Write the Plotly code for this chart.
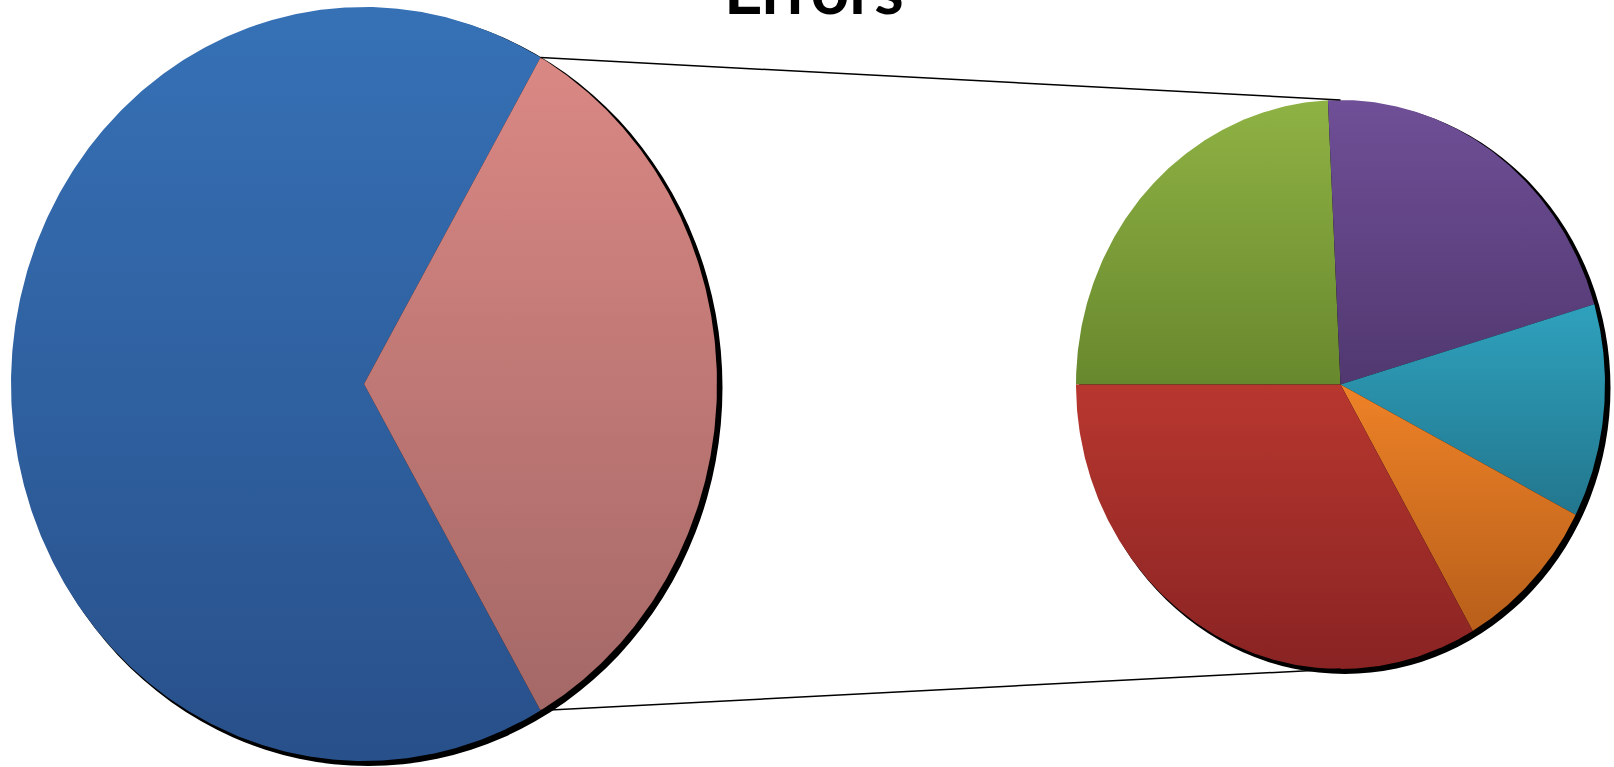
import numpy as np
import plotly.graph_objects as go

# ---- data ----
main_labels = ["Other", "Errors"]
main_values = [66, 33]            # second value is the split-out group
split_labels = ["Type A", "Type B", "Type C", "Type D", "Type E"]
split_values = [8, 7, 4, 3, 11]   # clockwise from 9 o'clock

main_colors = [("#3671B6", "#28508A"), ("#DA8884", "#A46866")]
split_colors = [("#8FB244", "#68882D"), ("#6F4F97", "#513870"),
                ("#2FA1BD", "#22768D"), ("#EE8227", "#B85F1A"),
                ("#B8372F", "#892323")]

title_text = "Errors"

# ---- layout constants (pixels, y up) ----
W, H = 1614, 767
L_CX, L_CY, L_RX, L_RY = 364.0, 767 - 384.0, 353.0, 377.0
R_CX, R_CY, R_RX, R_RY = 1340.5, 767 - 384.5, 264.5, 284.5

fig = go.Figure()


def slice_xy(cx, cy, rx, ry, a0, a1):
    n = max(int(abs(a1 - a0) / 0.5), 4)
    t = np.radians(np.linspace(a0, a1, n))
    xs = np.concatenate([[cx], cx + rx * np.cos(t), [cx]])
    ys = np.concatenate([[cy], cy + ry * np.sin(t), [cy]])
    return xs, ys


def add_slice(cx, cy, rx, ry, a0, a1, cols, name, val):
    xs, ys = slice_xy(cx, cy, rx, ry, a0, a1)
    fig.add_trace(go.Scatter(
        x=xs, y=ys, mode="lines", fill="toself",
        line=dict(width=0, color=cols[1]),
        fillgradient=dict(type="vertical",
                          colorscale=[[0, cols[1]], [1, cols[0]]],
                          start=float(ys.min()), stop=float(ys.max())),
        name=name, hovertemplate=f"{name}: {val}<extra></extra>",
        showlegend=False))


# shadows
for cx, cy, rx, ry in [(L_CX, L_CY, L_RX, L_RY), (R_CX, R_CY, R_RX, R_RY)]:
    fig.add_shape(type="circle", xref="x", yref="y", layer="below",
                  x0=cx - rx + 3, x1=cx + rx + 5.5, y0=cy - ry - 5, y1=cy + ry - 2,
                  fillcolor="black", line=dict(width=0))

# first pie: split slice centred on the right
tot = sum(main_values)
other_span = main_values[1] / tot * 360
add_slice(L_CX, L_CY, L_RX, L_RY, other_span / 2, 360 - other_span / 2,
          main_colors[0], main_labels[0], main_values[0])
add_slice(L_CX, L_CY, L_RX, L_RY, -other_span / 2, other_span / 2,
          main_colors[1], main_labels[1], main_values[1])

# second pie: clockwise from 180 deg
stot = sum(split_values)
a = 180.0
for lab, v, c in zip(split_labels, split_values, split_colors):
    span = v / stot * 360
    add_slice(R_CX, R_CY, R_RX, R_RY, a - span, a, c, lab, v)
    a -= span

# connector lines
ang = np.radians(other_span / 2)
for s in (1, -1):
    x0 = L_CX + L_RX * np.cos(ang)
    y0 = L_CY + s * L_RY * np.sin(ang)
    x1 = R_CX
    y1 = R_CY + s * R_RY
    fig.add_trace(go.Scatter(x=[x0, x1], y=[y0, y1], mode="lines",
                             line=dict(color="black", width=1.5),
                             hoverinfo="skip", showlegend=False))

fig.add_annotation(x=814, y=737, xref="x", yref="y", text=f"<b>{title_text}</b>",
                   showarrow=False, yanchor="bottom", xanchor="center",
                   font=dict(family="Lato", size=67, color="black"))

fig.update_layout(
    width=W, height=H, margin=dict(l=0, r=0, t=0, b=0),
    paper_bgcolor="white", plot_bgcolor="white",
    xaxis=dict(range=[0, W], visible=False, fixedrange=True),
    yaxis=dict(range=[0, H], visible=False, fixedrange=True),
    showlegend=False,
)

fig.write_html("out.html")
